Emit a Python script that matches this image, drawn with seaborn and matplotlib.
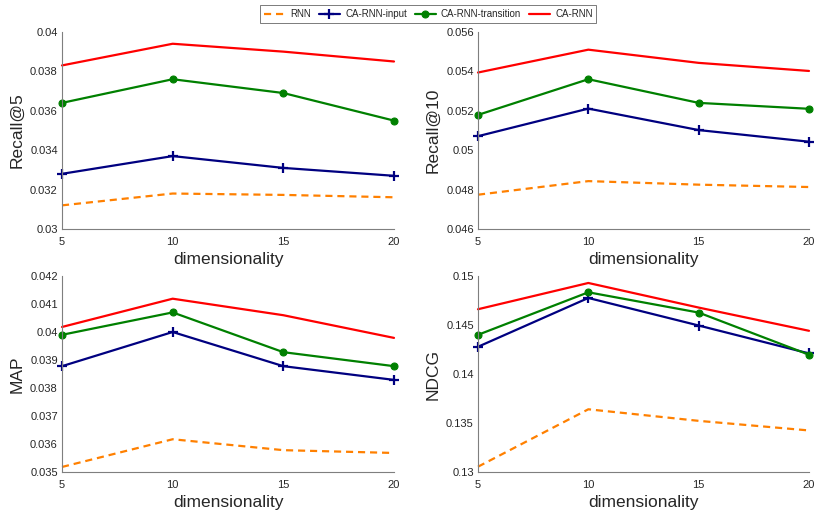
import numpy as np
import pandas as pd
import seaborn as sns
import matplotlib
matplotlib.use("Agg")
import matplotlib.pyplot as plt
from matplotlib.ticker import FuncFormatter

# Data
dims = [5, 10, 15, 20]
methods = ['RNN', 'CA-RNN-input', 'CA-RNN-transition', 'CA-RNN']

recall5_rnn = [0.0312, 0.0318, 0.03173, 0.03161]
recall5_input = [0.0328, 0.0337, 0.0331, 0.0327]
recall5_trans = [0.0364, 0.0376, 0.0369, 0.0355]
recall5_carnn = [0.0383, 0.0394, 0.0390, 0.0385]

recall10_rnn = [0.04774, 0.04843, 0.04825, 0.04813]
recall10_input = [0.05071, 0.05211, 0.05102, 0.05043]
recall10_trans = [0.05179, 0.0536, 0.0524, 0.0521]
recall10_carnn = [0.05394, 0.0551, 0.05443, 0.05402]

map_rnn = [0.03518, 0.03617, 0.03578, 0.03568]
map_input = [0.03878, 0.0400, 0.03878, 0.03829]
map_trans = [0.0399, 0.0407, 0.03928, 0.03878]
map_carnn = [0.04018, 0.04119, 0.0406, 0.03979]

ndcg_rnn = [0.13054, 0.1364, 0.13522, 0.13424]
ndcg_input = [0.14278, 0.14776, 0.14495, 0.1421]
ndcg_trans = [0.1440, 0.14834, 0.14627, 0.14197]
ndcg_carnn = [0.14661, 0.14929, 0.14678, 0.14441]

panels = [
    ('Recall@5', [recall5_rnn, recall5_input, recall5_trans, recall5_carnn], (0.03, 0.04), 0.002),
    ('Recall@10', [recall10_rnn, recall10_input, recall10_trans, recall10_carnn], (0.046, 0.056), 0.002),
    ('MAP', [map_rnn, map_input, map_trans, map_carnn], (0.035, 0.042), 0.001),
    ('NDCG', [ndcg_rnn, ndcg_input, ndcg_trans, ndcg_carnn], (0.13, 0.15), 0.005),
]

styles = {
    'RNN': dict(color='#ff8000', linestyle=(0, (3.2, 2.2)), marker=None),
    'CA-RNN-input': dict(color='#000080', linestyle='-', marker='+', markersize=7, markeredgewidth=1.6),
    'CA-RNN-transition': dict(color='#008000', linestyle='-', marker='o', markersize=5, markeredgewidth=0.8),
    'CA-RNN': dict(color='#ff0000', linestyle='-', marker=None),
}

sns.set_style("white")
plt.rcParams['font.family'] = ['Liberation Sans', 'DejaVu Sans']

fig = plt.figure(figsize=(8.3, 5.2), dpi=100)
positions = [
    [0.0747, 0.5596, 0.400, 0.379],
    [0.5759, 0.5596, 0.3988, 0.379],
    [0.0747, 0.0923, 0.400, 0.3769],
    [0.5759, 0.0923, 0.3988, 0.3769],
]
fmt = FuncFormatter(lambda v, p: '%g' % round(v, 6))
axis_col = '#262626'

for pos, (label, series, ylim, step) in zip(positions, panels):
    ax = fig.add_axes(pos)
    for name, vals in zip(methods, series):
        st = styles[name]
        sns.lineplot(x=dims, y=vals, ax=ax, color=st['color'], linestyle=st['linestyle'],
                     marker=st['marker'], markersize=st.get('markersize', 0),
                     markeredgewidth=st.get('markeredgewidth', 0),
                     markeredgecolor=st['color'], linewidth=1.6, label=name, legend=False)
    ax.set_xlim(5, 20)
    ax.set_ylim(*ylim)
    ax.set_xticks(dims)
    ax.set_yticks(np.arange(ylim[0], ylim[1] + step / 2, step))
    ax.yaxis.set_major_formatter(fmt)
    ax.tick_params(direction='in', length=3, width=0.6, labelsize=8, colors=axis_col)
    ax.tick_params(axis='y', pad=3)
    ax.tick_params(axis='x', pad=5.5)
    for side in ['top', 'right']:
        ax.spines[side].set_visible(False)
    for side in ['left', 'bottom']:
        ax.spines[side].set_color('#7f7f7f')
        ax.spines[side].set_linewidth(0.8)
    ax.set_xlabel('dimensionality', fontsize=12.5, color=axis_col, labelpad=4)
    ax.set_ylabel(label, fontsize=12.5, color=axis_col, labelpad=4)
    for ln in ax.lines:
        ln.set_clip_on(False)

handles = fig.axes[0].lines
leg = fig.legend(handles, methods, loc='upper center', bbox_to_anchor=(0.516, 0.99), ncol=4,
                 fontsize=7, frameon=True, fancybox=False, handlelength=2.2, handletextpad=0.5,
                 columnspacing=0.8, borderpad=0.4, borderaxespad=0)
leg.get_frame().set_edgecolor('#404040')
leg.get_frame().set_linewidth(0.6)

fig.savefig('out.png', dpi=100)
